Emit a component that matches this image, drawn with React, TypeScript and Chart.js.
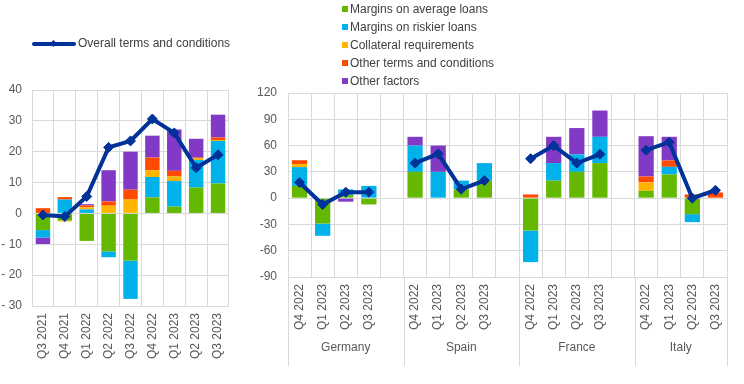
import React, { useEffect, useRef } from 'react';
import { Chart, registerables } from 'chart.js';

Chart.register(...registerables);

// ---------- Euro area panel ----------
const euroQuarters = ['Q3 2021', 'Q4 2021', 'Q1 2022', 'Q2 2022', 'Q3 2022', 'Q4 2022', 'Q1 2023', 'Q2 2023', 'Q3 2023'];
const euroMarginsAverage = [-5.4, -2.3, -8.9, -12.3, -15.3, 5.2, 2.2, 8.4, 9.7];
const euroMarginsRiskier = [-2.4, 4.5, 1.3, -1.9, -12.4, 6.6, 8.3, 8.9, 13.8];
const euroCollateral = [0, -0.3, 0.7, 2.5, 4.5, 2.2, 1.5, 0.5, 0.3];
const euroOtherTerms = [1.7, 0.8, 0.6, 1.4, 3.2, 4.1, 1.8, 0.3, 0.8];
const euroOtherFactors = [-2.1, 0, 0.4, 10.1, 12.3, 7.1, 13.4, 6.1, 7.4];
const euroOverall = [-0.5, -1, 5.5, 21.4, 23.5, 30.6, 26.1, 14.8, 19];
const euroTicks = { min: -30, max: 40, step: 10 };

// ---------- Country panel ----------
const countries = ['Germany', 'Spain', 'France', 'Italy'];
const countryQuarters = ['Q4 2022', 'Q1 2023', 'Q2 2023', 'Q3 2023'];
// 4 values per country, in the order of `countries`
const ctyMarginsAverage = [14, -29, 3.4, -7.2, 30, 0, 10, 20, -37, 20, 30, 40, 8.4, 27, -18.3, 0];
const ctyMarginsRiskier = [21.4, -14, 6.6, 14, 30, 30, 10, 20, -36, 20, 20, 30, 0, 8.7, -9.1, 0];
const ctyCollateral = [3.6, 0, 0, 0, 0, 0, 0, 0, 0, 0, 0, 0, 9.5, 0, 0, 0];
const ctyOtherTerms = [4.3, 0, 0, 0, 0, 0, 0, 0, 4.2, 0, 0, 0, 6.8, 7.3, 4.2, 6.5];
const ctyOtherFactors = [0, 0, -4, 0, 10, 30, 0, 0, 0, 30, 30, 30, 46, 27, 0, 0];
const ctyOverall = [17.9, -7.2, 6.8, 6.8, 40, 50.6, 10.3, 20, 45, 60, 40, 50, 54.7, 63.9, 0, 9];
const ctyTicks = { min: -90, max: 120, step: 30 };

const seriesNames = ['Margins on average loans', 'Margins on riskier loans', 'Collateral requirements', 'Other terms and conditions', 'Other factors'];
const lineName = 'Overall terms and conditions';

const COLORS = ['#65b800', '#00b1ea', '#ffb400', '#ff4b00', '#8139c6'];
const NAVY = '#003299';
const GRID = '#d9d9d9';
const TEXT = '#595959';
const FONT = '"Liberation Sans", Arial, sans-serif';

Chart.defaults.font.family = FONT;
Chart.defaults.font.size = 12;
Chart.defaults.color = TEXT;

const perGroup = countryQuarters.length;

function withGaps(values: (number | null)[]): (number | null)[] {
  const out: (number | null)[] = [];
  countries.forEach((_, ci) => {
    for (let q = 0; q < perGroup; q++) out.push(values[ci * perGroup + q]);
    if (ci < countries.length - 1) out.push(null);
  });
  return out;
}

function countryLabels(): string[] {
  const out: string[] = [];
  countries.forEach((_, ci) => {
    countryQuarters.forEach((q) => out.push(q));
    if (ci < countries.length - 1) out.push('');
  });
  return out;
}

function buildDatasets(bars: (number | null)[][], line: (number | null)[]) {
  const ds: any[] = bars.map((data, i) => ({
    type: 'bar',
    label: seriesNames[i],
    data,
    backgroundColor: COLORS[i],
    borderWidth: 0,
    stack: 'bars',
    order: 1,
    categoryPercentage: 0.66,
    barPercentage: 1,
  }));
  ds.push({
    type: 'line',
    label: lineName,
    data: line,
    borderColor: NAVY,
    backgroundColor: NAVY,
    borderWidth: 4,
    pointStyle: 'rectRot',
    pointRadius: 5,
    pointBorderWidth: 1,
    pointBackgroundColor: NAVY,
    pointBorderColor: NAVY,
    stack: 'line',
    order: 0,
    spanGaps: false,
    tension: 0,
  });
  return ds;
}

function makeOptions(opts: { yWidth: number; xHeight: number; padTop: number; padRight: number; ticks: { min: number; max: number; step: number }; spaceMinus: boolean; yPad: number }) {
  return {
    responsive: false,
    animation: false as const,
    devicePixelRatio: 1,
    layout: { padding: { top: opts.padTop, right: opts.padRight, left: 0, bottom: 0 } },
    plugins: { legend: { display: false }, tooltip: { enabled: false }, title: { display: false } },
    scales: {
      x: {
        stacked: true,
        offset: true,
        grid: { color: GRID, lineWidth: 1, drawTicks: false, offset: true },
        border: { color: GRID },
        ticks: { autoSkip: false, minRotation: 90, maxRotation: 90, padding: 7, color: TEXT, font: { size: 12 } },
        afterFit: (s: any) => { s.height = opts.xHeight; },
      },
      y: {
        stacked: true,
        min: opts.ticks.min,
        max: opts.ticks.max,
        grid: { color: GRID, lineWidth: 1, drawTicks: false },
        border: { color: GRID },
        ticks: {
          stepSize: opts.ticks.step,
          padding: opts.yPad,
          color: TEXT,
          font: { size: 12 },
          callback: (v: any) => (v < 0 && opts.spaceMinus ? '- ' + Math.abs(v) : String(v)),
        },
        afterFit: (s: any) => { s.width = opts.yWidth; },
      },
    },
  };
}

const groupPlugin = {
  id: 'groupLabels',
  afterDraw(chart: any) {
    const { ctx, chartArea } = chart;
    const n = chart.data.labels.length;
    const w = (chartArea.right - chartArea.left) / n;
    ctx.save();
    ctx.strokeStyle = GRID;
    ctx.lineWidth = 1;
    const bounds: number[] = [];
    countries.forEach((_, ci) => bounds.push(chartArea.left + ci * (perGroup + 1) * w));
    bounds.push(chartArea.right);
    bounds.forEach((x) => {
      const px = Math.round(x) + 0.5;
      ctx.beginPath();
      ctx.moveTo(px, chartArea.bottom);
      ctx.lineTo(px, 366);
      ctx.stroke();
    });
    ctx.fillStyle = TEXT;
    ctx.font = '12px ' + FONT;
    ctx.textAlign = 'center';
    ctx.textBaseline = 'middle';
    countries.forEach((c, ci) => {
      const cx = (bounds[ci] + bounds[ci + 1]) / 2;
      ctx.fillText(c, cx, 348);
    });
    ctx.restore();
  },
};

export default function App() {
  const leftRef = useRef<HTMLCanvasElement>(null);
  const rightRef = useRef<HTMLCanvasElement>(null);

  useEffect(() => {
    const left = new Chart(leftRef.current as HTMLCanvasElement, {
      type: 'bar',
      data: {
        labels: euroQuarters,
        datasets: buildDatasets(
          [euroMarginsAverage, euroMarginsRiskier, euroCollateral, euroOtherTerms, euroOtherFactors],
          euroOverall
        ),
      },
      options: makeOptions({ yWidth: 32, xHeight: 78, padTop: 90, padRight: 10, ticks: euroTicks, spaceMinus: true, yPad: 10 }) as any,
    });
    const right = new Chart(rightRef.current as HTMLCanvasElement, {
      type: 'bar',
      data: {
        labels: countryLabels(),
        datasets: buildDatasets(
          [ctyMarginsAverage, ctyMarginsRiskier, ctyCollateral, ctyOtherTerms, ctyOtherFactors].map(withGaps),
          withGaps(ctyOverall)
        ),
      },
      options: makeOptions({ yWidth: 48, xHeight: 107, padTop: 93, padRight: 17, ticks: ctyTicks, spaceMinus: false, yPad: 11 }) as any,
      plugins: [groupPlugin],
    });
    return () => {
      left.destroy();
      right.destroy();
    };
  }, []);

  const legendRows = [9, 27, 45, 63, 81];

  return (
    <div style={{ position: 'absolute', left: 0, top: 0, width: 744, height: 384, background: '#fff', fontFamily: FONT, color: '#404040', overflow: 'hidden' }}>
      <canvas ref={leftRef} width={240} height={384} style={{ position: 'absolute', left: 0, top: 0, width: 240, height: 384 }} />
      <canvas ref={rightRef} width={504} height={384} style={{ position: 'absolute', left: 240, top: 0, width: 504, height: 384 }} />
      <div style={{ position: 'absolute', left: 32, top: 42, width: 44, height: 4, background: NAVY, borderRadius: 2 }} />
      <div style={{ position: 'absolute', left: 51, top: 40.5, width: 5, height: 5, background: NAVY, transform: 'rotate(45deg)' }} />
      <div style={{ position: 'absolute', left: 78, top: 36, fontSize: 12, lineHeight: '15px', whiteSpace: 'nowrap' }}>{lineName}</div>
      {seriesNames.map((name, i) => (
        <React.Fragment key={name}>
          <div style={{ position: 'absolute', left: 342, top: legendRows[i] - 3, width: 6, height: 6, background: COLORS[i] }} />
          <div style={{ position: 'absolute', left: 350, top: legendRows[i] - 7.5, fontSize: 12, lineHeight: '15px', whiteSpace: 'nowrap' }}>{name}</div>
        </React.Fragment>
      ))}
    </div>
  );
}
